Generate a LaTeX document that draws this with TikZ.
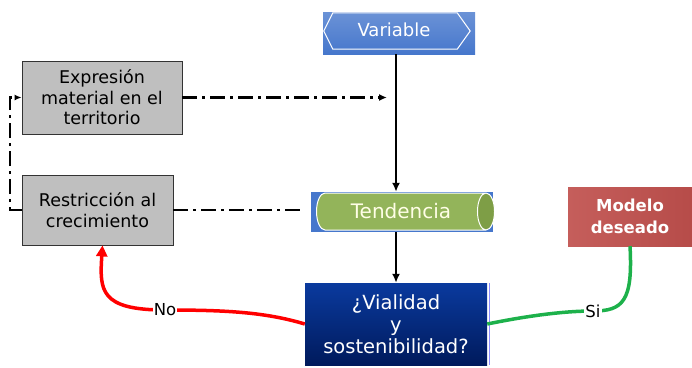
\documentclass[tikz,border=0pt]{standalone}
\usepackage{fontspec}
\setmainfont{DejaVu Sans}
\usetikzlibrary{positioning,arrows.meta,calc}
\usetikzlibrary{shapes.geometric}
\definecolor{boxgray}{HTML}{BFBFBF}
\definecolor{varblue}{HTML}{4677CC}
\definecolor{tendgreen}{HTML}{93B45A}
\definecolor{tendend}{HTML}{7E9E46}
\definecolor{navytop}{HTML}{0A3A9E}
\definecolor{navybot}{HTML}{001A5C}
\definecolor{modred}{HTML}{C0504D}
\definecolor{sigreen}{HTML}{1DB14B}
\tikzset{
     box/.style={rectangle,draw=black!80,fill=boxgray,line width=0.8pt,align=center,inner sep=0pt,font=\fontsize{17.5}{20.5}\selectfont},
     flow/.style={-{Latex[length=9pt,width=8pt]},line width=2pt},
     dashdot/.style={line width=2.2pt,dash pattern=on 15pt off 5pt on 3pt off 5pt},
     nopath/.style={red,line width=3.5pt},
     sipath/.style={sigreen,line width=3.5pt},
     lbl/.style={fill=white,inner sep=1pt,font=\fontsize{16.5}{18}\selectfont}
     }

\begin{document}
\begin{tikzpicture}[x=1pt,y=-1pt]
            \useasboundingbox (0,0) rectangle (692,367);
            % Place nodes
            \node[rectangle,inner sep=0pt,minimum width=152pt,minimum height=42pt,top color=varblue!80!white,bottom color=varblue,text=white,font=\fontsize{18}{20}\selectfont] at (399,33) (var) {};
            \draw[white,line width=1pt] ($(var.north west)+(10,1)$) -- ($(var.north east)+(-18,1)$) -- ($(var.east)+(-5,-2)$) -- ($(var.south east)+(-18,-5)$) -- ($(var.south west)+(10,-5)$) -- ($(var.west)+(1,-2)$) -- cycle;
            \node[text=white,font=\fontsize{18}{20}\selectfont] at ($(var.center)+(-5,-3)$) {Variable};
            \node[box,minimum width=160pt,minimum height=73pt] at (102,97.5) (expr) {Expresión\\material en el\\territorio};
            \node[box,minimum width=151pt,minimum height=70pt] at (97.5,210) (rest) {Restricción al\\crecimiento};
            \node[rectangle,fill=varblue,inner sep=0pt,minimum width=182pt,minimum height=40pt] at (402,212) (tendbg) {};
            \node[cylinder,shape aspect=1.1,draw=white,line width=1pt,cylinder uses custom fill,cylinder body fill=tendgreen,cylinder end fill=tendend,inner sep=0pt,minimum width=37pt,minimum height=178pt,text=white!90!yellow,font=\fontsize{20}{22}\selectfont] at (401,211.5) (tend) {Tendencia};
            \node[rectangle,inner sep=0pt,minimum width=182pt,minimum height=82pt,top color=navytop,bottom color=navybot,text=white,align=center,font=\fontsize{19.5}{22}\selectfont] at (396,324) (vial) {¿Vialidad\\y\\sostenibilidad?};
            \draw[blue!45,line width=1pt] ([xshift=2pt]vial.north east) -- ([xshift=2pt]vial.south east);
            \node[rectangle,inner sep=0pt,minimum width=124pt,minimum height=59pt,left color=modred!92!white,right color=modred!95!black,text=white,align=center,font=\bfseries\fontsize{16.5}{22}\selectfont] at (630,216.5) (mod) {Modelo\\deseado};
            \coordinate (nopt) at (165,310);
            \coordinate (sipt) at (593,311);
            % Draw edges
            \draw[flow] (var.south -| vial.north) -- (tendbg.north -| vial.north);
            \draw[flow] (tendbg.south -| vial.north) -- (vial.north);
            \draw[dashdot,-{Latex[length=8pt,width=7pt]}] (expr.east) -- ([xshift=-9pt]expr.east -| vial.north);
            \draw[dashdot] (rest.east) -- ([xshift=-6pt]rest.east -| tendbg.west);
            \draw[dashdot,-{Latex[length=7pt,width=6pt]}] (rest.west) -- ++(-12,0) |- (expr.west);
            \draw[nopath,-{Triangle[length=11pt,width=11pt]}] (vial.west) .. controls +(-40,-12) and +(60,0) .. (nopt) .. controls +(-65,0) and +(-3,45) .. ([xshift=5pt]rest.south);
            \draw[sipath] (mod.south) .. controls +(3,55) and +(30,0) .. (sipt) .. controls +(-40,0) and +(20,-4) .. (vial.east);
            \node[lbl] at (nopt) {No};
            \node[lbl] at (sipt) {Si};
        \end{tikzpicture}
\end{document}
